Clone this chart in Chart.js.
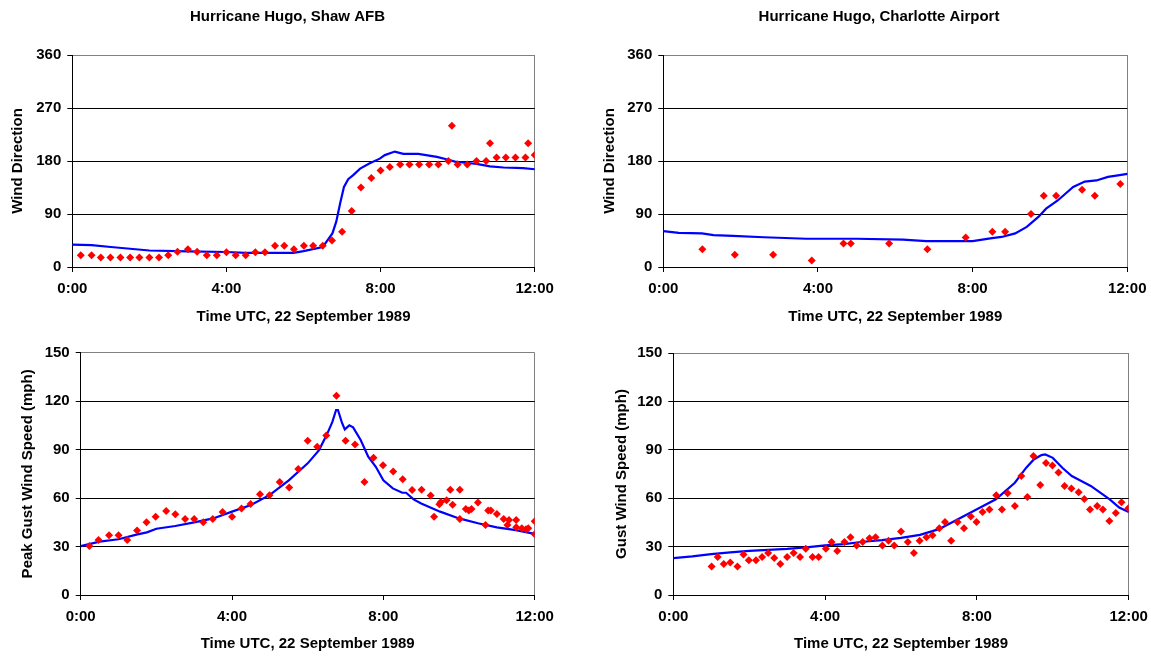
<!DOCTYPE html>
<html><head><meta charset="utf-8">
<script src="https://cdn.jsdelivr.net/npm/chart.js@4"></script>
<style>
html,body{margin:0;padding:0;background:#fff;overflow:hidden;width:1151px;height:656px;position:relative;}
canvas{position:absolute;display:block;}
</style></head><body>
<canvas id="c1" width="575" height="330" style="left:0px;top:0px"></canvas>
<canvas id="c2" width="568" height="330" style="left:595px;top:0px"></canvas>
<canvas id="c3" width="575" height="326" style="left:0px;top:330px"></canvas>
<canvas id="c4" width="568" height="326" style="left:595px;top:330px"></canvas>
<script>
// ---- Data (hours UTC, 22 Sep 1989) ----
const xTickLabels = ["0:00", "4:00", "8:00", "12:00"];
const xTickValues = [0, 4, 8, 12];
const dirTicks = [0, 90, 180, 270, 360];
const gustTicks = [0, 30, 60, 90, 120, 150];

// Shaw AFB wind direction
const shawDirObsTime = [0.22,0.5,0.74,0.99,1.25,1.5,1.74,2.0,2.25,2.49,2.73,3.0,3.24,3.49,3.75,4.0,4.24,4.5,4.75,5.0,5.26,5.5,5.75,6.01,6.25,6.5,6.74,7.0,7.25,7.49,7.76,8.0,8.24,8.51,8.75,9.0,9.26,9.5,9.76,9.85,10.0,10.25,10.49,10.74,10.84,11.01,11.25,11.5,11.76,11.83,12.0];
const shawDirObs = [20,20,16,16,16,16,16,16,16,20,26,30,26,20,20,25,20,20,25,25,36,36,30,36,36,36,45,60,95,135,151,164,170,174,174,174,174,174,180,240,174,174,180,180,210,186,186,186,186,210,190];
const shawDirModelTime = [0,0.5,1,1.5,2,3,4,4.5,5,5.5,5.74,6,6.5,6.75,6.85,6.95,7.05,7.16,7.29,7.47,7.72,7.98,8.11,8.37,8.59,8.98,9.46,9.71,9.93,10.19,10.49,10.84,11.19,11.7,12,12.14];
const shawDirModel = [38,37,34,31,28,26.6,25.5,24,24,24,24,27,34,57,77,108,136,149,156,167,176,184,190,196,192,192,187,183,179,177,175,171,169,168,166,166];

// Charlotte Airport wind direction
const cltDirObsTime = [1.01,1.85,2.84,3.84,4.66,4.85,5.84,6.83,7.82,8.51,8.84,9.51,9.84,10.16,10.83,11.16,11.82];
const cltDirObs = [30,21,21,11,40,40,40,30,50,60,60,90,121,121,131,121,141];
const cltDirModelTime = [0,0.4,1.0,1.3,1.8,2.6,3.7,5.0,6.2,6.8,8.0,8.5,8.75,9.1,9.4,9.7,9.9,10.2,10.6,10.9,11.2,11.5,11.8,12,12.1];
const cltDirModel = [61,58,57,54,53,50.5,48,48,46.5,44,44,49,51,57,68,85,99,113,136,145,147,153,156,158,160];

// Shaw AFB peak gust
const shawGustObsTime = [0.23,0.47,0.75,1.0,1.23,1.49,1.74,1.98,2.26,2.5,2.76,3.0,3.24,3.49,3.75,4.0,4.25,4.49,4.74,4.99,5.26,5.51,5.75,6.0,6.25,6.49,6.76,7.0,7.25,7.5,7.74,7.99,8.26,8.51,8.76,9.01,9.25,9.34,9.48,9.52,9.67,9.77,9.83,10.02,10.02,10.18,10.26,10.33,10.5,10.7,10.77,10.84,11.0,11.18,11.28,11.32,11.51,11.51,11.66,11.77,11.83,12.0,12.0];
const shawGustObs = [30.3,34,37,37,34,40,45,48.5,52,50,47,47,45,47,51.4,48.5,53.6,56.3,62.3,61.7,70,66.6,78,95.5,91.8,98.8,123.4,95.5,93.2,70,85,80.3,76.5,71.6,65,65.1,61.6,48.5,56.2,57.5,58.7,65.1,55.8,65.1,47.1,53.3,52.3,53.3,57.2,43.4,52.3,52.3,50.2,47.1,43.4,46.5,46.5,42,41.3,40.7,41.3,45.7,37.6];
const shawGustModelTime = [0,0.5,1,1.5,1.75,2,2.5,3,3.5,4,4.5,5,5.5,6,6.3,6.5,6.65,6.75,6.8,6.9,6.98,7.1,7.2,7.4,7.6,7.8,8,8.25,8.5,8.6,8.8,9,9.5,10,10.5,11,11.5,12,12.2];
const shawGustModel = [30.3,33,34.5,37.5,38.8,41,42.7,45,47.4,51.6,55.7,62,71,81.5,89.7,99,107,114.5,114.5,107,102.5,105,103.8,96,85.6,79.4,71,66,63.3,63.3,59.2,56.7,51.6,47.4,44.4,41.9,40.2,37.8,36.2];

// Charlotte Airport gust
const cltGustObsTime = [1.01,1.17,1.33,1.5,1.69,1.85,1.99,2.18,2.34,2.5,2.66,2.82,3.0,3.17,3.34,3.49,3.67,3.83,4.02,4.17,4.32,4.51,4.67,4.83,4.99,5.17,5.33,5.51,5.67,5.82,6.0,6.18,6.34,6.49,6.67,6.83,7.01,7.16,7.32,7.49,7.66,7.84,7.99,8.15,8.33,8.51,8.66,8.81,9.0,9.17,9.33,9.49,9.67,9.82,9.99,10.15,10.31,10.49,10.68,10.83,10.98,11.17,11.32,11.49,11.66,11.81,11.99];
const cltGustObs = [17.7,23.5,19.2,20.2,17.7,25.1,21.6,21.6,23.5,26,22.9,19.2,23.5,26,23.5,28.6,23.5,23.5,28.6,32.8,27.2,32.8,35.8,30.7,32.8,35.2,35.8,30.7,33.6,30.7,39.3,32.8,26,33.6,35.8,37,41.4,45.3,33.6,45.3,41.4,48.6,45.3,51.5,53,61.8,53,63,55.2,73.7,60.8,86.1,68.2,81.8,80.3,76,67.6,66,63.7,59.5,53,55.2,53,45.9,50.9,57.5,53.8];
const cltGustModelTime = [0,0.5,1,1.5,2,2.5,3,3.5,4,4.5,5,5.5,6,6.5,7,7.5,8,8.5,9,9.3,9.5,9.7,9.8,10,10.25,10.5,10.75,11,11.25,11.5,11.75,12,12.17];
const cltGustModel = [22.8,23.9,25.3,26.4,27.4,28,28.6,29.5,30.7,31.5,33,34,35.4,37.3,40.8,47,53.1,59.3,69.6,78.9,84,86.7,87.1,85,78.9,73.7,70.7,67.6,63.4,59.3,54.2,51.5,50];

// ---- Chart building ----
Chart.defaults.font.family = '"Liberation Sans", Arial, sans-serif';
Chart.defaults.font.weight = 'bold';
Chart.defaults.font.size = 15;
Chart.defaults.color = '#000';

function pts(xs, ys) { return xs.map((x, i) => ({x: x, y: ys[i]})); }

function build(id, cfg) {
  const ymax = cfg.yTicks[cfg.yTicks.length - 1];
  const ystep = cfg.yTicks[1] - cfg.yTicks[0];
  return new Chart(document.getElementById(id), {
    type: 'scatter',
    data: {
      datasets: [
        { label: 'Observed', data: pts(cfg.obsT, cfg.obs), pointStyle: 'rectRot', pointRadius: 4,
          pointHoverRadius: 4, backgroundColor: '#ff0000', borderColor: '#ff0000', pointBorderWidth: 0, showLine: false },
        { label: 'Model', data: pts(cfg.modT, cfg.mod), showLine: true, pointRadius: 0, borderColor: '#0000ff',
          backgroundColor: '#0000ff', borderWidth: 2.2, tension: 0, clip: {left: 8, right: 8, top: 0, bottom: 0} }
      ]
    },
    options: {
      responsive: false, animation: false, events: [],
      layout: { padding: { left: 0, right: 0, top: cfg.padT, bottom: 0 } },
      plugins: {
        legend: { display: false }, tooltip: { enabled: false },
        title: cfg.title ? { display: true, text: cfg.title, font: { size: 15, weight: 'bold' }, color: '#000',
          padding: { top: 8, bottom: 29 } } : { display: false }
      },
      scales: {
        x: {
          type: 'linear', min: 0, max: 12,
          afterBuildTicks: s => { s.ticks = xTickValues.map(v => ({value: v})); },
          afterFit: s => { s.height = cfg.xH; },
          ticks: { padding: 8, color: '#000', font: { size: 15, weight: 'bold' },
            callback: (v) => xTickLabels[xTickValues.indexOf(v)] },
          grid: { drawOnChartArea: true, tickLength: 5, tickColor: '#000',
            color: c => (c.tick && c.tick.value === 12) ? '#808080' : 'rgba(0,0,0,0)' },
          border: { color: '#000', width: 1 },
          title: { display: true, text: 'Time UTC, 22 September 1989', color: '#000',
            font: { size: 15, weight: 'bold' }, padding: { top: 0, bottom: cfg.xTitlePad } }
        },
        y: {
          type: 'linear', min: 0, max: ymax,
          afterBuildTicks: s => { s.ticks = cfg.yTicks.map(v => ({value: v})); },
          afterFit: s => { s.width = cfg.yW; },
          ticks: { padding: 6, color: '#000', font: { size: 15, weight: 'bold' }, stepSize: ystep },
          grid: { tickLength: 5, tickColor: '#000',
            color: c => (c.tick && c.tick.value === ymax) ? '#808080' : '#000' },
          border: { color: '#000', width: 1 },
          title: { display: true, text: cfg.yTitle, color: '#000', font: { size: 15, weight: 'bold' },
            padding: { top: cfg.yTitlePad, bottom: 0 } }
        },
        yRightSpace: {
          type: 'linear', position: 'right', display: true, min: 0, max: ymax,
          afterFit: s => { s.width = cfg.padR; },
          ticks: { display: false },
          grid: { display: false, drawTicks: false },
          border: { display: false },
          title: { display: false }
        }
      }
    }
  });
}

build('c1', { title: 'Hurricane Hugo, Shaw AFB', yTitle: 'Wind Direction', yTicks: dirTicks,
  obsT: shawDirObsTime, obs: shawDirObs, modT: shawDirModelTime, mod: shawDirModel,
  padR: 40.3, padT: 0, yW: 72.3, xH: 63, xTitlePad: 4.5, yTitlePad: 9 });
build('c2', { title: 'Hurricane Hugo, Charlotte Airport', yTitle: 'Wind Direction', yTicks: dirTicks,
  obsT: cltDirObsTime, obs: cltDirObs, modT: cltDirModelTime, mod: cltDirModel,
  padR: 35.7, padT: 0, yW: 68.3, xH: 63, xTitlePad: 4.5, yTitlePad: 6 });
build('c3', { title: null, yTitle: 'Peak Gust Wind Speed (mph)', yTicks: gustTicks,
  obsT: shawGustObsTime, obs: shawGustObs, modT: shawGustModelTime, mod: shawGustModel,
  padR: 40.3, padT: 22.7, yW: 80.7, xH: 61, xTitlePad: 3, yTitlePad: 19.3 });
build('c4', { title: null, yTitle: 'Gust Wind Speed (mph)', yTicks: gustTicks,
  obsT: cltGustObsTime, obs: cltGustObs, modT: cltGustModelTime, mod: cltGustModel,
  padR: 34.3, padT: 23, yW: 78.3, xH: 61, xTitlePad: 3, yTitlePad: 17.7 });
</script>
</body></html>
